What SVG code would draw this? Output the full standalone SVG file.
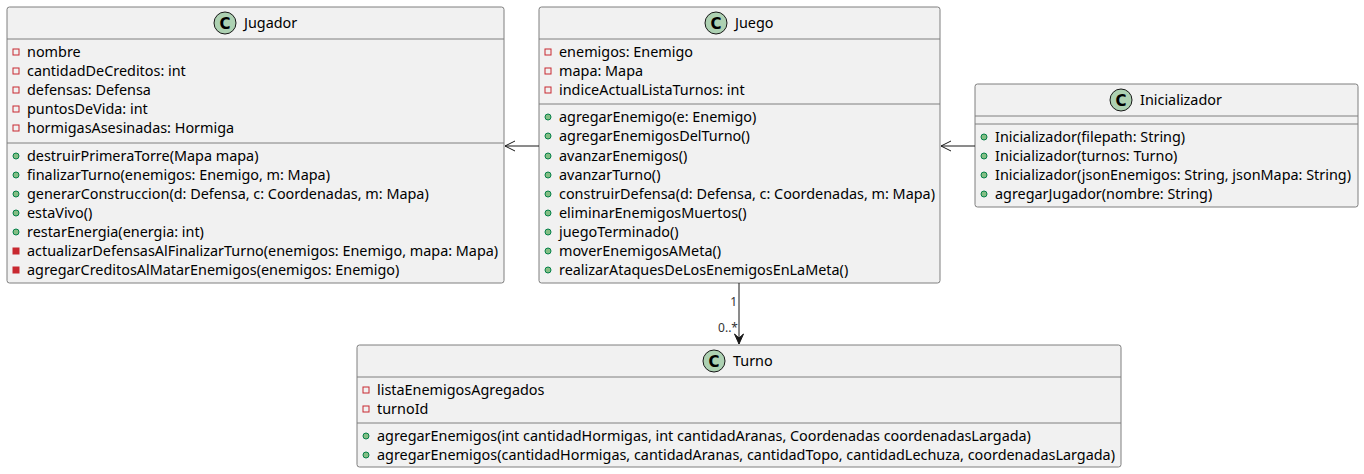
<svg xmlns="http://www.w3.org/2000/svg" width="1364" height="474" viewBox="0 0 1364 474">
<defs>
<style>
.box{fill:#F1F1F1;stroke:#7F7F7F;stroke-width:1;}
.sep{stroke:#7F7F7F;stroke-width:1;}
text{font-family:"Noto Sans","Open Sans",sans-serif;fill:#000;}
.t{font-size:14.4px;}
.m{font-size:14.4px;}
.lbl{font-size:12px;}
.ic{fill:#ADD1B2;stroke:#181818;stroke-width:1;}
.priv{fill:none;stroke:#C82930;stroke-width:1;}
.privm{fill:#C82930;stroke:#C82930;stroke-width:1;}
.pub{fill:#84BE84;stroke:#038048;stroke-width:1;}
.edge{stroke:#181818;stroke-width:1;fill:none;}
</style>
<g id="cicon">
<circle cx="0" cy="0" r="11" class="ic"/>
<text x="0" y="5.5" text-anchor="middle" style="font-size:15px;font-weight:bold;font-family:'DejaVu Sans','Noto Sans',sans-serif">C</text>
</g>
</defs>
<rect width="1364" height="474" fill="#FFFFFF"/>

<g id="Jugador">
<rect class="box" x="7" y="7" width="497" height="276" rx="2.5"/>
<use href="#cicon" x="225" y="23"/>
<text class="t" x="244" y="28">Jugador</text>
<line class="sep" x1="7" y1="39" x2="504" y2="39"/>
<rect class="priv" x="13" y="49" width="6" height="6"/><text class="m" x="27" y="57">nombre</text>
<rect class="priv" x="13" y="68" width="6" height="6"/><text class="m" x="27" y="76">cantidadDeCreditos: int</text>
<rect class="priv" x="13" y="87" width="6" height="6"/><text class="m" x="27" y="95">defensas: Defensa</text>
<rect class="priv" x="13" y="106" width="6" height="6"/><text class="m" x="27" y="114">puntosDeVida: int</text>
<rect class="priv" x="13" y="125" width="6" height="6"/><text class="m" x="27" y="133">hormigasAsesinadas: Hormiga</text>
<line class="sep" x1="7" y1="143" x2="504" y2="143"/>
<circle class="pub" cx="16" cy="156" r="3"/><text class="m" x="27" y="161">destruirPrimeraTorre(Mapa mapa)</text>
<circle class="pub" cx="16" cy="175" r="3"/><text class="m" x="27" y="180">finalizarTurno(enemigos: Enemigo, m: Mapa)</text>
<circle class="pub" cx="16" cy="194" r="3"/><text class="m" x="27" y="199">generarConstruccion(d: Defensa, c: Coordenadas, m: Mapa)</text>
<circle class="pub" cx="16" cy="213" r="3"/><text class="m" x="27" y="218">estaVivo()</text>
<circle class="pub" cx="16" cy="232" r="3"/><text class="m" x="27" y="237">restarEnergia(energia: int)</text>
<rect class="privm" x="13" y="248" width="6" height="6"/><text class="m" x="27" y="256">actualizarDefensasAlFinalizarTurno(enemigos: Enemigo, mapa: Mapa)</text>
<rect class="privm" x="13" y="267" width="6" height="6"/><text class="m" x="27" y="275">agregarCreditosAlMatarEnemigos(enemigos: Enemigo)</text>
</g>

<g id="Juego">
<rect class="box" x="539" y="7" width="401" height="276" rx="2.5"/>
<use href="#cicon" x="716" y="23"/>
<text class="t" x="735" y="28">Juego</text>
<line class="sep" x1="539" y1="39" x2="940" y2="39"/>
<rect class="priv" x="545" y="49" width="6" height="6"/><text class="m" x="559" y="57">enemigos: Enemigo</text>
<rect class="priv" x="545" y="68" width="6" height="6"/><text class="m" x="559" y="76">mapa: Mapa</text>
<rect class="priv" x="545" y="87" width="6" height="6"/><text class="m" x="559" y="95">indiceActualListaTurnos: int</text>
<line class="sep" x1="539" y1="104" x2="940" y2="104"/>
<circle class="pub" cx="548" cy="117" r="3"/><text class="m" x="559" y="122">agregarEnemigo(e: Enemigo)</text>
<circle class="pub" cx="548" cy="136" r="3"/><text class="m" x="559" y="141">agregarEnemigosDelTurno()</text>
<circle class="pub" cx="548" cy="156" r="3"/><text class="m" x="559" y="161">avanzarEnemigos()</text>
<circle class="pub" cx="548" cy="175" r="3"/><text class="m" x="559" y="180">avanzarTurno()</text>
<circle class="pub" cx="548" cy="194" r="3"/><text class="m" x="559" y="199">construirDefensa(d: Defensa, c: Coordenadas, m: Mapa)</text>
<circle class="pub" cx="548" cy="213" r="3"/><text class="m" x="559" y="218">eliminarEnemigosMuertos()</text>
<circle class="pub" cx="548" cy="232" r="3"/><text class="m" x="559" y="237">juegoTerminado()</text>
<circle class="pub" cx="548" cy="251" r="3"/><text class="m" x="559" y="256">moverEnemigosAMeta()</text>
<circle class="pub" cx="548" cy="270" r="3"/><text class="m" x="559" y="275">realizarAtaquesDeLosEnemigosEnLaMeta()</text>
</g>

<g id="Inicializador">
<rect class="box" x="975" y="84" width="383" height="123" rx="2.5"/>
<use href="#cicon" x="1121" y="100"/>
<text class="t" x="1140" y="105">Inicializador</text>
<line class="sep" x1="975" y1="116" x2="1358" y2="116"/>
<line class="sep" x1="975" y1="124" x2="1358" y2="124"/>
<circle class="pub" cx="984" cy="137" r="3"/><text class="m" x="995" y="142">Inicializador(filepath: String)</text>
<circle class="pub" cx="984" cy="156" r="3"/><text class="m" x="995" y="161">Inicializador(turnos: Turno)</text>
<circle class="pub" cx="984" cy="175" r="3"/><text class="m" x="995" y="180">Inicializador(jsonEnemigos: String, jsonMapa: String)</text>
<circle class="pub" cx="984" cy="194" r="3"/><text class="m" x="995" y="199">agregarJugador(nombre: String)</text>
</g>

<g id="Turno">
<rect class="box" x="357" y="345" width="764" height="122" rx="2.5"/>
<use href="#cicon" x="714" y="361"/>
<text class="t" x="733" y="366">Turno</text>
<line class="sep" x1="357" y1="377" x2="1121" y2="377"/>
<rect class="priv" x="363" y="387" width="6" height="6"/><text class="m" x="377" y="395">listaEnemigosAgregados</text>
<rect class="priv" x="363" y="406" width="6" height="6"/><text class="m" x="377" y="414">turnoId</text>
<line class="sep" x1="357" y1="423" x2="1121" y2="423"/>
<circle class="pub" cx="366" cy="436" r="3"/><text class="m" x="377" y="441">agregarEnemigos(int cantidadHormigas, int cantidadAranas, Coordenadas coordenadasLargada)</text>
<circle class="pub" cx="366" cy="455" r="3"/><text class="m" x="377" y="460">agregarEnemigos(cantidadHormigas, cantidadAranas, cantidadTopo, cantidadLechuza, coordenadasLargada)</text>
</g>

<g id="connectors">
<line class="edge" x1="539" y1="146" x2="505" y2="146"/>
<path class="edge" d="M515,141 L505,146 L515,151"/>
<line class="edge" x1="975" y1="146" x2="941" y2="146"/>
<path class="edge" d="M951,141 L941,146 L951,151"/>
<line class="edge" x1="739" y1="283" x2="739" y2="344"/>
<path d="M734.5,334 L739,344 L743.5,334 L739,338 Z" fill="#181818" stroke="#181818"/>
<text class="lbl" x="737" y="306" text-anchor="end" style="fill:#333">1</text>
<text class="lbl" x="738" y="332" text-anchor="end" style="fill:#333">0..*</text>
</g>
</svg>
